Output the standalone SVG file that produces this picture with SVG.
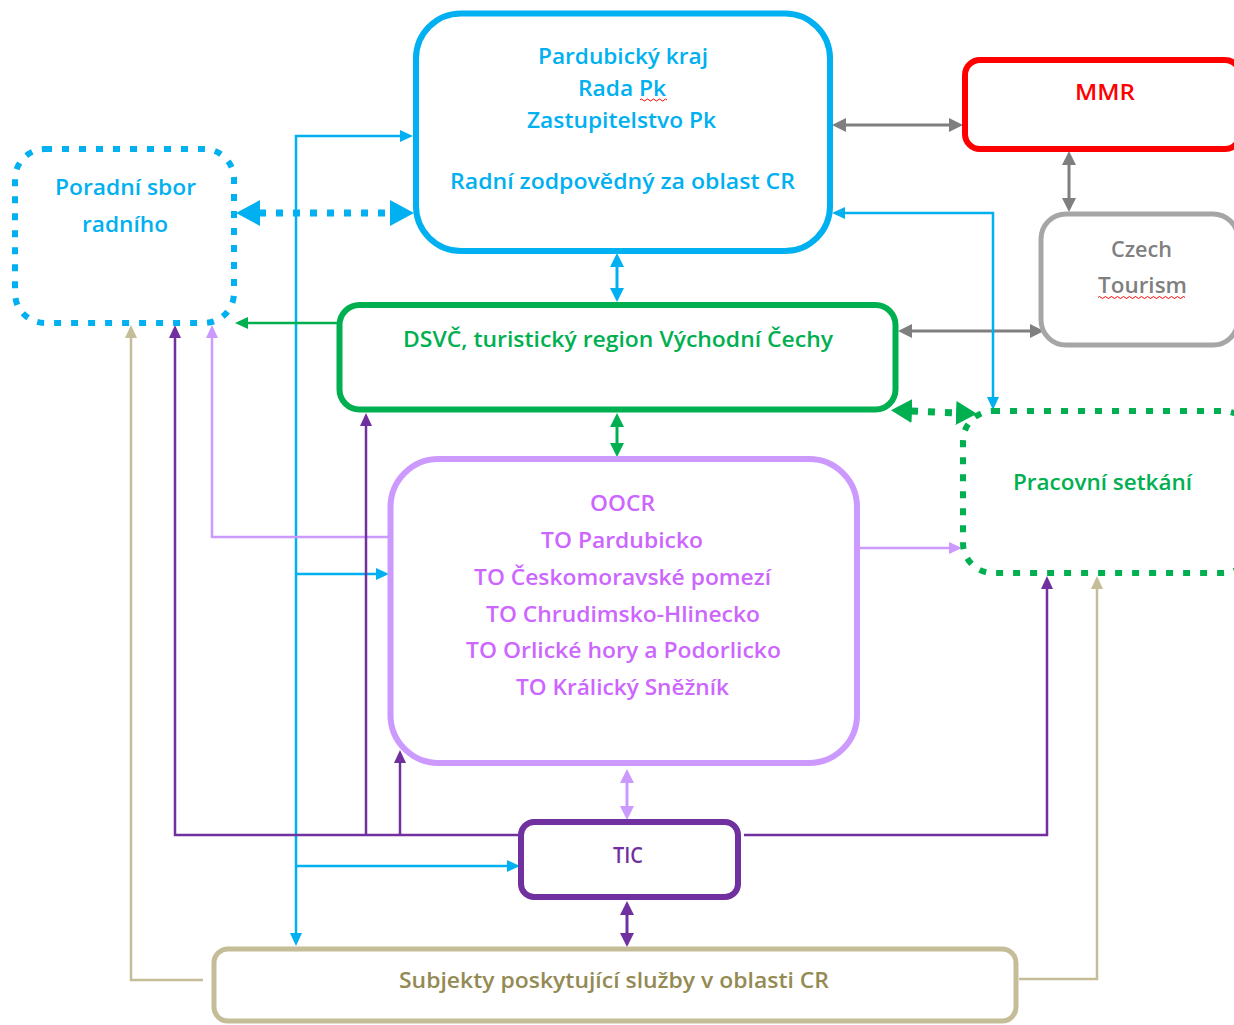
<svg xmlns="http://www.w3.org/2000/svg" width="1234" height="1025" viewBox="0 0 1234 1025">
<style>
text{font-family:"Open Sans",Lato,"Liberation Sans",sans-serif;text-anchor:middle;font-size:21px;font-weight:600}
.box{fill:#fff}
.dot{stroke-dasharray:7 10}
.ln{fill:none;stroke-width:2.5}
.md{fill:none;stroke-width:3}
</style>
<defs>
<marker id="bS" markerUnits="userSpaceOnUse" viewBox="0 0 13 12" markerWidth="13" markerHeight="12" refX="1" refY="6" orient="auto-start-reverse"><path d="M0,0L13,6L0,12z" fill="#00B0F0"/></marker>
<marker id="bM" markerUnits="userSpaceOnUse" viewBox="0 0 14 14" markerWidth="14" markerHeight="14" refX="1" refY="7" orient="auto-start-reverse"><path d="M0,0L14,7L0,14z" fill="#00B0F0"/></marker>
<marker id="bL" markerUnits="userSpaceOnUse" viewBox="0 0 24 26" markerWidth="24" markerHeight="26" refX="1" refY="13" orient="auto-start-reverse"><path d="M0,0L24,13L0,26z" fill="#00B0F0"/></marker>
<marker id="yM" markerUnits="userSpaceOnUse" viewBox="0 0 14 14" markerWidth="14" markerHeight="14" refX="1" refY="7" orient="auto-start-reverse"><path d="M0,0L14,7L0,14z" fill="#7F7F7F"/></marker>
<marker id="gS" markerUnits="userSpaceOnUse" viewBox="0 0 13 12" markerWidth="13" markerHeight="12" refX="1" refY="6" orient="auto-start-reverse"><path d="M0,0L13,6L0,12z" fill="#00B050"/></marker>
<marker id="gM" markerUnits="userSpaceOnUse" viewBox="0 0 14 14" markerWidth="14" markerHeight="14" refX="1" refY="7" orient="auto-start-reverse"><path d="M0,0L14,7L0,14z" fill="#00B050"/></marker>
<marker id="gL" markerUnits="userSpaceOnUse" viewBox="0 0 21 24" markerWidth="21" markerHeight="24" refX="1" refY="12" orient="auto-start-reverse"><path d="M0,0L21,12L0,24z" fill="#00B050"/></marker>
<marker id="lS" markerUnits="userSpaceOnUse" viewBox="0 0 13 12" markerWidth="13" markerHeight="12" refX="1" refY="6" orient="auto-start-reverse"><path d="M0,0L13,6L0,12z" fill="#CC99FF"/></marker>
<marker id="lM" markerUnits="userSpaceOnUse" viewBox="0 0 14 14" markerWidth="14" markerHeight="14" refX="1" refY="7" orient="auto-start-reverse"><path d="M0,0L14,7L0,14z" fill="#CC99FF"/></marker>
<marker id="pS" markerUnits="userSpaceOnUse" viewBox="0 0 13 12" markerWidth="13" markerHeight="12" refX="1" refY="6" orient="auto-start-reverse"><path d="M0,0L13,6L0,12z" fill="#7030A0"/></marker>
<marker id="pM" markerUnits="userSpaceOnUse" viewBox="0 0 14 14" markerWidth="14" markerHeight="14" refX="1" refY="7" orient="auto-start-reverse"><path d="M0,0L14,7L0,14z" fill="#7030A0"/></marker>
<marker id="tS" markerUnits="userSpaceOnUse" viewBox="0 0 13 12" markerWidth="13" markerHeight="12" refX="1" refY="6" orient="auto-start-reverse"><path d="M0,0L13,6L0,12z" fill="#C4BD97"/></marker>
</defs>
<rect width="1234" height="1025" fill="#fff"/>

<g id="connectors">
<path class="md" stroke="#7F7F7F" d="M845,125H950" marker-start="url(#yM)" marker-end="url(#yM)"/>
<path class="md" stroke="#7F7F7F" d="M1069,164V199" marker-start="url(#yM)" marker-end="url(#yM)"/>
<path class="md" stroke="#7F7F7F" d="M911,331H1031" marker-start="url(#yM)" marker-end="url(#yM)"/>
<path class="md" stroke="#00B0F0" d="M617,266V289" marker-start="url(#bM)" marker-end="url(#bM)"/>
<path class="dot" fill="none" stroke="#00B0F0" stroke-width="7" d="M259,213H391" marker-start="url(#bL)" marker-end="url(#bL)"/>
<path class="ln" stroke="#00B0F0" d="M401,136H296V934" marker-start="url(#bS)" marker-end="url(#bS)"/>
<path class="ln" stroke="#00B0F0" d="M296,574H377" marker-end="url(#bS)"/>
<path class="ln" stroke="#00B0F0" d="M296,866H508" marker-end="url(#bS)"/>
<path class="ln" stroke="#00B0F0" d="M844,213H993V398" marker-start="url(#bS)" marker-end="url(#bS)"/>
<path class="ln" stroke="#00B050" d="M337,323H247" marker-end="url(#gS)"/>
<path class="dot" fill="none" stroke="#00B050" stroke-width="7" d="M911,411L957,413" marker-start="url(#gL)" marker-end="url(#gL)"/>
<path class="md" stroke="#00B050" d="M617,426V444" marker-start="url(#gM)" marker-end="url(#gM)"/>
<path class="ln" stroke="#CC99FF" d="M388,537H212V337" marker-end="url(#lS)"/>
<path class="ln" stroke="#CC99FF" d="M860,548H950" marker-end="url(#lS)"/>
<path class="md" stroke="#CC99FF" d="M627,782V807" marker-start="url(#lM)" marker-end="url(#lM)"/>
<path class="ln" stroke="#7030A0" d="M519,835H175V337" marker-end="url(#pS)"/>
<path class="ln" stroke="#7030A0" d="M366,835V425" marker-end="url(#pS)"/>
<path class="ln" stroke="#7030A0" d="M400,835V762" marker-end="url(#pS)"/>
<path class="ln" stroke="#7030A0" d="M744,835H1047V588" marker-end="url(#pS)"/>
<path class="md" stroke="#7030A0" d="M627,914V934" marker-start="url(#pM)" marker-end="url(#pM)"/>
<path class="ln" stroke="#C4BD97" d="M203,980H131V337" marker-end="url(#tS)"/>
<path class="ln" stroke="#C4BD97" d="M1019,979H1097V588" marker-end="url(#tS)"/>
</g>

<g id="pardubicky-kraj">
<rect class="box" x="416" y="13.5" width="414" height="237.5" rx="45" stroke="#00B0F0" stroke-width="6"/>
<g fill="#00B0F0">
<text x="623" y="64" textLength="170" lengthAdjust="spacingAndGlyphs">Pardubický kraj</text>
<text x="622" y="96" textLength="88" lengthAdjust="spacingAndGlyphs">Rada Pk</text>
<text x="621.5" y="128" textLength="189" lengthAdjust="spacingAndGlyphs">Zastupitelstvo Pk</text>
<text x="622.5" y="189" textLength="345" lengthAdjust="spacingAndGlyphs">Radní zodpovědný za oblast CR</text>
</g>
<path d="M640,100q1.5,-2 3,0t3,0t3,0t3,0t3,0t3,0t3,0t3,0t3,0" fill="none" stroke="#FF0000" stroke-width="1"/>
</g>

<g id="mmr">
<rect class="box" x="965" y="60" width="275" height="89" rx="15" stroke="#FF0000" stroke-width="6"/>
<text x="1105" y="100" fill="#FF0000" textLength="60" lengthAdjust="spacingAndGlyphs">MMR</text>
</g>

<g id="czech-tourism">
<rect class="box" x="1041" y="214" width="197" height="131" rx="25" stroke="#A6A6A6" stroke-width="5"/>
<text x="1141.5" y="257" fill="#7F7F7F" textLength="61" lengthAdjust="spacingAndGlyphs">Czech</text>
<text x="1142.5" y="293" fill="#7F7F7F" textLength="89" lengthAdjust="spacingAndGlyphs">Tourism</text>
<path d="M1098,297.5q1.5,-2 3,0t3,0t3,0t3,0t3,0t3,0t3,0t3,0t3,0t3,0t3,0t3,0t3,0t3,0t3,0t3,0t3,0t3,0t3,0t3,0t3,0t3,0t3,0t3,0t3,0t3,0t3,0t3,0t3,0" fill="none" stroke="#FF0000" stroke-width="1"/>
</g>

<g id="poradni-sbor">
<rect class="box dot" x="15" y="149" width="219" height="174" rx="30" stroke="#00B0F0" stroke-width="6"/>
<text x="125.5" y="195" fill="#00B0F0" textLength="141" lengthAdjust="spacingAndGlyphs">Poradní sbor</text>
<text x="125" y="232" fill="#00B0F0" textLength="86" lengthAdjust="spacingAndGlyphs">radního</text>
</g>

<g id="dsvc">
<rect class="box" x="339.5" y="305" width="556" height="104.5" rx="20" stroke="#00B050" stroke-width="6"/>
<text x="618" y="347" fill="#00B050" textLength="430" lengthAdjust="spacingAndGlyphs">DSVČ, turistický region Východní Čechy</text>
</g>

<g id="pracovni-setkani">
<rect class="box dot" x="963" y="411" width="290" height="162" rx="30" stroke="#00B050" stroke-width="6"/>
<text x="1102.5" y="490" fill="#00B050" textLength="179" lengthAdjust="spacingAndGlyphs">Pracovní setkání</text>
</g>

<g id="oocr">
<rect class="box" x="390.5" y="459" width="466.5" height="304" rx="48" stroke="#CC99FF" stroke-width="6"/>
<g fill="#CC66FF">
<text x="622.5" y="511" textLength="65" lengthAdjust="spacingAndGlyphs">OOCR</text>
<text x="622" y="548" textLength="162" lengthAdjust="spacingAndGlyphs">TO Pardubicko</text>
<text x="622.5" y="585" textLength="297" lengthAdjust="spacingAndGlyphs">TO Českomoravské pomezí</text>
<text x="623" y="622" textLength="274" lengthAdjust="spacingAndGlyphs">TO Chrudimsko-Hlinecko</text>
<text x="623.5" y="658" textLength="315" lengthAdjust="spacingAndGlyphs">TO Orlické hory a Podorlicko</text>
<text x="622.5" y="695" textLength="213" lengthAdjust="spacingAndGlyphs">TO Králický Sněžník</text>
</g>
</g>

<g id="tic">
<rect class="box" x="521" y="822" width="217" height="75" rx="13" stroke="#7030A0" stroke-width="6"/>
<text x="628" y="863" fill="#7030A0" textLength="30" lengthAdjust="spacingAndGlyphs">TIC</text>
</g>

<g id="subjekty">
<rect class="box" x="214" y="949" width="802" height="72" rx="14" stroke="#C4BD97" stroke-width="5"/>
<text x="614" y="988" fill="#948A54" textLength="430" lengthAdjust="spacingAndGlyphs">Subjekty poskytující služby v oblasti CR</text>
</g>
</svg>
